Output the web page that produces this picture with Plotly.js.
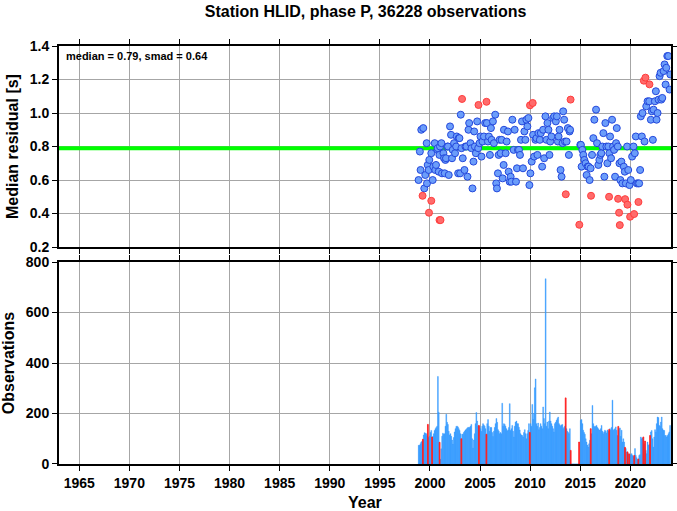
<!DOCTYPE html>
<html>
<head>
<meta charset="utf-8">
<script src="https://cdn.plot.ly/plotly-3.0.1.min.js"></script>
<style>html,body{margin:0;padding:0;background:#fff;}#chart{width:677px;height:511px;}</style>
</head>
<body>
<div id="chart"></div>
<script>
// ---------- DATA ----------
const station = "HLID";
const phase = "P";
const totalObs = 36228;
const median = 0.79;
const smad = 0.64;

// Median residual per month, normal (blue) points: decimal year / value [s]
const blueX = [
 1998.86,1998.99,1999.06,1999.13,1999.33,1999.43,1999.53,1999.67,1999.70,1999.77,1999.87,1999.93,
 2000.13,2000.27,2000.33,2000.47,2000.53,2000.60,2000.73,2000.77,2000.87,2000.94,2001.00,
 2001.14,2001.20,2001.34,2001.40,2001.47,2001.54,2001.60,2001.74,2001.80,2001.87,2002.00,
 2002.10,2002.20,2002.27,2002.40,2002.50,2002.61,2002.67,2002.81,2002.87,2002.94,2003.01,
 2003.07,2003.14,2003.27,2003.44,2003.54,2003.64,2003.74,2003.84,2003.91,2004.04,
 2004.14,2004.24,2004.34,2004.41,2004.48,2004.58,2004.71,2004.81,2004.94,
 2005.04,2005.14,2005.24,2005.38,2005.51,2005.68,2005.78,2005.88,2005.98,
 2006.08,2006.15,2006.28,2006.38,2006.51,2006.61,2006.68,2006.78,2006.85,2006.95,
 2007.05,2007.15,2007.25,2007.35,2007.38,2007.55,2007.65,2007.78,2007.85,2007.95,
 2008.05,2008.12,2008.22,2008.35,2008.45,2008.58,2008.68,2008.78,2008.88,2008.98,
 2009.08,2009.18,2009.28,2009.42,2009.52,2009.62,2009.72,2009.82,2009.92,
 2010.02,2010.15,2010.29,2010.39,2010.52,2010.62,2010.72,2010.82,2010.96,
 2011.06,2011.19,2011.29,2011.39,2011.52,2011.62,2011.72,2011.82,2011.92,
 2012.00,2012.12,2012.29,2012.39,2012.56,2012.66,2012.76,2012.83,2012.93,
 2013.03,2013.13,2013.23,2013.29,2013.39,2013.47,2013.63,2013.76,2013.86,2013.93,2013.98,
 2015.00,2015.06,2015.13,
 2015.20,2015.30,2015.40,2015.53,2015.63,2015.73,2015.83,2015.93,2016.03,
 2016.17,2016.30,2016.40,2016.57,2016.67,2016.80,2016.90,2017.00,
 2017.10,2017.20,2017.30,2017.40,2017.50,2017.60,2017.70,2017.80,2017.90,2017.97,
 2018.07,2018.17,2018.27,2018.37,2018.47,2018.57,2018.64,2018.74,2018.91,2019.00,
 2019.10,2019.20,2019.34,2019.44,2019.54,2019.67,2019.78,2019.91,2020.04,
 2020.17,2020.31,2020.44,2020.54,2020.64,2020.77,2020.87,2020.97,2021.04,
 2021.14,2021.21,2021.41,2021.58,2021.71,2021.88,2022.04,
 2022.14,2022.24,2022.31,2022.44,2022.54,2022.61,2022.71,2022.81,2022.91,2023.01,
 2023.08,2023.18,2023.31,2023.41,2023.51,2023.58,2023.68,2023.78,2023.91,2023.98
];
const blueY = [
 0.60,0.77,0.66,0.90,0.91,0.55,0.63,0.82,0.58,0.69,0.66,0.72,
 0.76,0.60,0.68,0.82,0.66,0.69,0.78,0.79,0.65,0.75,0.80,
 0.82,0.64,0.76,0.73,0.64,0.72,0.73,0.80,0.80,0.63,0.92,
 0.87,0.73,0.78,0.82,0.76,0.80,0.86,0.64,0.85,0.85,0.64,
 0.99,0.79,0.73,0.66,0.80,0.80,0.62,0.90,0.94,0.82,
 0.79,0.55,0.71,0.89,0.80,0.76,0.95,0.79,0.82,
 0.86,0.74,0.83,0.86,0.94,0.94,0.83,0.86,0.75,
 0.91,0.84,0.95,0.82,0.99,0.58,0.55,0.64,0.75,0.84,
 0.76,0.84,0.61,0.69,0.90,0.76,0.83,0.89,0.65,0.59,
 0.62,0.59,0.96,0.78,0.90,0.59,0.67,0.78,0.78,0.75,
 0.84,0.95,0.67,0.89,0.84,0.96,0.92,0.97,0.57,
 0.64,0.71,0.87,0.74,0.84,0.85,0.75,0.88,0.84,
 0.88,0.68,0.90,0.73,0.98,0.84,0.94,0.90,0.75,
 0.83,0.86,0.97,0.98,0.95,0.98,0.83,0.86,0.90,
 0.66,0.62,0.82,1.01,0.96,0.83,0.83,0.91,0.75,0.89,0.90,
 0.81,0.81,0.68,
 0.78,0.75,0.72,0.70,0.63,0.68,0.68,0.60,0.67,
 0.75,0.85,0.96,1.02,0.82,0.69,0.72,0.75,
 0.76,0.80,0.88,0.62,0.94,0.80,0.70,0.80,0.76,0.86,
 0.73,0.96,0.80,0.78,0.62,0.82,0.91,0.80,0.70,0.60,
 0.71,0.58,0.68,0.65,0.58,0.80,0.66,0.57,0.60,
 0.74,0.80,0.76,0.86,0.58,0.58,0.58,0.66,0.98,
 0.86,1.00,0.83,1.04,1.07,1.07,0.96,
 1.01,0.84,1.02,1.07,1.13,0.96,1.00,1.08,1.22,1.24,
 1.08,1.09,1.25,1.29,1.17,1.27,1.34,1.34,1.14,1.23
];

// Flagged (red) months
const redX = [1999.26,1999.90,2000.13,2000.95,2001.05,2003.20,2004.84,2005.64,2009.98,2010.25,
 2013.55,2014.03,2014.90,2016.07,2017.87,2018.77,2018.87,2018.94,2019.47,2019.70,2019.97,
 2020.37,2020.80,2021.34,2021.50,2021.90];
const redY = [0.506,0.405,0.476,0.361,0.361,1.084,1.048,1.067,1.046,1.060,
 0.515,1.080,0.333,0.506,0.500,0.488,0.405,0.331,0.486,0.453,0.381,
 0.397,0.469,1.193,1.211,1.171];

// Observations per month, Nov 1998 .. Dec 2023 (flagged months drawn in red)
const obsStartYear = 1998, obsStartMonth = 11;
const obsMonthly = [
 74,74,
 80,87,90,0,115,124,122,120,112,0,105,110,
 125,133,0,109,120,133,140,145,150,347,205,0,
 19,60,110,122,118,120,150,197,165,157,130,115,
 120,110,95,79,105,127,140,149,150,147,140,133,
 120,0,118,118,125,130,135,138,142,145,145,145,
 150,157,100,63,95,120,160,204,170,150,0,150,
 140,130,150,160,155,150,140,0,160,176,150,130,
 145,145,125,109,130,145,160,180,165,136,130,120,
 125,120,241,150,160,157,150,140,131,135,145,239,
 133,140,153,130,107,150,166,170,160,160,146,135,
 120,115,113,107,125,136,120,100,120,133,160,0,
 160,150,236,177,200,302,337,160,150,162,136,145,
 160,150,140,226,180,160,734,150,166,140,170,206,
 170,160,150,140,127,160,165,173,180,186,160,155,
 150,155,157,140,145,150,0,140,130,125,120,140,
 0,0,0,0,0,0,0,0,0,0,0,0,
 173,176,160,134,125,118,100,87,75,67,80,94,
 0,120,232,160,150,146,150,153,145,140,135,134,
 140,153,130,120,127,134,130,123,135,130,0,140,
 134,145,253,134,137,140,147,134,113,0,140,143,
 110,134,87,100,87,0,61,48,0,41,0,34,
 37,41,34,30,0,61,34,25,18,0,34,37,
 107,100,103,0,80,0,54,41,87,74,77,0,
 127,133,100,67,107,136,127,160,186,184,153,150,
 166,186,140,134,133,113,113,107,113,120,127,153
];
const redBarX = [1999.29,1999.79,2000.21,2000.96,2003.13,2004.88,2005.63,2009.96,2013.54,2014.04,
 2014.88,2016.04,2017.88,2018.79,2019.46,2019.71,2019.88,2020.38,2020.79,2021.29,2021.46,2021.96];
const redBarObs = [98,157,107,86,100,153,118,125,262,54,
 87,140,137,149,66,48,40,34,20,107,91,113];

// ---------- PLOT ----------
const xRange = [1962.98, 2024.05];
const monthW = 1/12;
const barX = obsMonthly.map((_, i) => obsStartYear + (obsStartMonth - 1 + i + 0.5) / 12);

const FONT = 'Liberation Sans, Arial, Helvetica, sans-serif';
const gridC = '#a6a6a6';

const traces = [
  // median reference line across the whole panel
  {type:'scatter', mode:'lines', x: xRange, y: [median, median], xaxis:'x', yaxis:'y',
   line:{color:'#00ff00', width:4}, hoverinfo:'skip', cliponaxis:true},
  {type:'scatter', mode:'markers', x: blueX, y: blueY, xaxis:'x', yaxis:'y',
   marker:{size:7, color:'#6b9dfa', line:{color:'#2448dc', width:1}}, hoverinfo:'x+y'},
  {type:'scatter', mode:'markers', x: redX, y: redY, xaxis:'x', yaxis:'y',
   marker:{size:7, color:'#ff6b6b', line:{color:'#ff3c3c', width:1}}, hoverinfo:'x+y'},
  {type:'bar', x: barX, y: obsMonthly, width: monthW, xaxis:'x2', yaxis:'y2',
   marker:{color:'#3399ff', line:{color:'#3399ff', width:0.4}}},
  {type:'bar', x: redBarX, y: redBarObs, width: monthW, xaxis:'x2', yaxis:'y2',
   marker:{color:'#ff1a1a', line:{color:'#ff1a1a', width:0.8}}}
];

const xCommon = {
  range:xRange, dtick:5, tick0:1965, showgrid:true, gridcolor:gridC, gridwidth:1,
  ticks:'outside', ticklen:5, tickwidth:1, tickcolor:'#000',
  showline:true, linecolor:'#000', linewidth:2, mirror:'allticks', zeroline:false,
  tickfont:{family:FONT, size:14, color:'#000', weight:'bold'}
};
const yCommon = {
  showgrid:true, gridcolor:gridC, gridwidth:1,
  ticks:'outside', ticklen:5, tickwidth:1, tickcolor:'#000',
  showline:true, linecolor:'#000', linewidth:2, mirror:'allticks', zeroline:false,
  tickfont:{family:FONT, size:14, color:'#000', weight:'bold'}
};

const layout = {
  width:677, height:511,
  margin:{l:59, r:6, t:46, b:47},
  paper_bgcolor:'#fff', plot_bgcolor:'#fff',
  showlegend:false,
  barmode:'overlay', bargap:0,
  title:{text:`Station ${station}, phase ${phase}, ${totalObs} observations`,
         font:{family:FONT, size:16, color:'#000', weight:'bold'},
         x:0.54, xanchor:'center', y:0.978, yanchor:'middle'},
  xaxis: Object.assign({}, xCommon, {anchor:'y', showticklabels:false}),
  xaxis2: Object.assign({}, xCommon, {anchor:'y2'}),
  yaxis: Object.assign({}, yCommon, {domain:[0.519,1], range:[0.2,1.4], dtick:0.2, tickformat:'.1f',
          title:{text:'Median residual [s]', font:{family:FONT, size:16, color:'#000', weight:'bold'}, standoff:7}}),
  yaxis2: Object.assign({}, yCommon, {domain:[0,0.483], range:[0,800], dtick:200,
          title:{text:'Observations', font:{family:FONT, size:16, color:'#000', weight:'bold'}, standoff:7}}),
  annotations:[
    {text:`median = ${median}, smad = ${smad}`, xref:'x domain', yref:'y domain',
     x:0.008, y:0.99, xanchor:'left', yanchor:'top', showarrow:false,
     font:{family:FONT, size:11, color:'#000', weight:'bold'}},
    {text:'Year', xref:'x2 domain', yref:'y2 domain', x:0.5, y:0, yshift:-38,
     xanchor:'center', yanchor:'middle', showarrow:false, borderpad:0,
     font:{family:FONT, size:16, color:'#000', weight:'bold'}}
  ]
};

Plotly.newPlot('chart', traces, layout, {displayModeBar:false, staticPlot:true});
</script>
</body>
</html>
